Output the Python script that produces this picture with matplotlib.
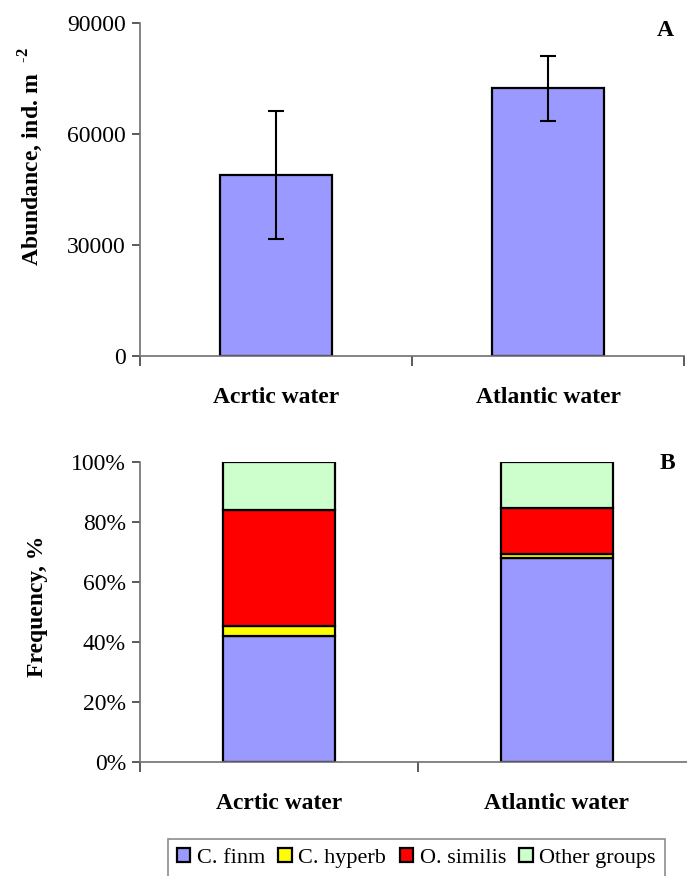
import matplotlib
matplotlib.use("Agg")
import matplotlib.pyplot as plt
from matplotlib.patches import Patch
from matplotlib.ticker import FixedLocator

plt.rcParams['font.family'] = ['Liberation Serif', 'DejaVu Serif']
plt.rcParams['mathtext.fontset'] = 'custom'
plt.rcParams['mathtext.rm'] = 'Liberation Serif'
plt.rcParams['mathtext.bf'] = 'Liberation Serif:bold'

# data
waters = ['Acrtic water', 'Atlantic water']
abundance = [49000, 72400]
abundance_err = [17300, 8800]

groups = ['C. finm', 'C. hyperb', 'O. similis', 'Other groups']
freq = {
    'C. finm': [42.0, 68.0],
    'C. hyperb': [3.3, 1.4],
    'O. similis': [38.7, 15.2],
    'Other groups': [16.0, 15.4],
}
colors = ['#9999FF', '#FFFF00', '#FF0000', '#CCFFCC']

fig = plt.figure(figsize=(6.87, 8.76), dpi=100)
axA = fig.add_axes([140/687, 1-356/876, 544/687, 333/876])
axB = fig.add_axes([140/687, 1-762/876, 556/687, 300/876])

x = list(range(len(waters)))


def style_axis(ax):
    for s in ['top', 'right']:
        ax.spines[s].set_visible(False)
    for s in ['left', 'bottom']:
        ax.spines[s].set_color('#707070')
        ax.spines[s].set_linewidth(1.2)
    ax.set_xlim(-0.5, 1.5)
    ax.set_xticks(x)
    ax.set_xticklabels(waters, fontsize=17, fontweight='bold')
    ax.tick_params(axis='x', which='major', length=0, pad=22)
    ax.xaxis.set_minor_locator(FixedLocator([-0.5, 0.5, 1.5]))
    ax.tick_params(axis='x', which='minor', length=7, width=1.2, color='#404040', direction='out')
    ax.tick_params(axis='y', length=6, width=1.2, color='#404040', direction='out', labelsize=17, pad=4)


# panel A
axA.bar(x, abundance, width=0.41, color=colors[0], edgecolor='black', linewidth=1.6,
        yerr=abundance_err, error_kw=dict(ecolor='black', elinewidth=1.5, capsize=6, capthick=1.5))
axA.set_ylim(0, 90000)
axA.set_yticks([0, 30000, 60000, 90000])
style_axis(axA)
axA.set_ylabel('Abundance, ind. m  $^{\\mathbf{\\text{-}2}}$', fontsize=17, fontweight='bold')
axA.yaxis.set_label_coords(-0.175, 0.6)
fig.text(665/687, 1-30/876, 'A', fontsize=17, fontweight='bold', ha='center', va='center')

# panel B
bottom = [0, 0]
handles = []
for g, c in zip(groups, colors):
    vals = freq[g]
    axB.bar(x, vals, width=0.4, bottom=bottom, color=c, edgecolor='black', linewidth=1.6)
    bottom = [b + v for b, v in zip(bottom, vals)]
    handles.append(Patch(facecolor=c, edgecolor='black', linewidth=1.6, label=g))
axB.set_ylim(0, 100)
axB.set_yticks([0, 20, 40, 60, 80, 100])
axB.set_yticklabels([f'{t}%' for t in [0, 20, 40, 60, 80, 100]])
style_axis(axB)
axB.set_ylabel('Frequency, %', fontsize=17, fontweight='bold')
axB.yaxis.set_label_coords(-0.165, 0.52)
fig.text(667/687, 1-463/876, 'B', fontsize=17, fontweight='bold', ha='center', va='center')

leg = fig.legend(handles=handles, loc='upper left', bbox_to_anchor=(168/687, 1-839/876),
                 ncol=4, fontsize=16, frameon=True, fancybox=False, handlelength=0.6,
                 handleheight=0.6, handletextpad=0.3, columnspacing=0.6, borderpad=0.4,
                 borderaxespad=0)
leg.get_frame().set_edgecolor('#707070')
leg.get_frame().set_linewidth(1.2)

fig.savefig('out.png', dpi=100)
